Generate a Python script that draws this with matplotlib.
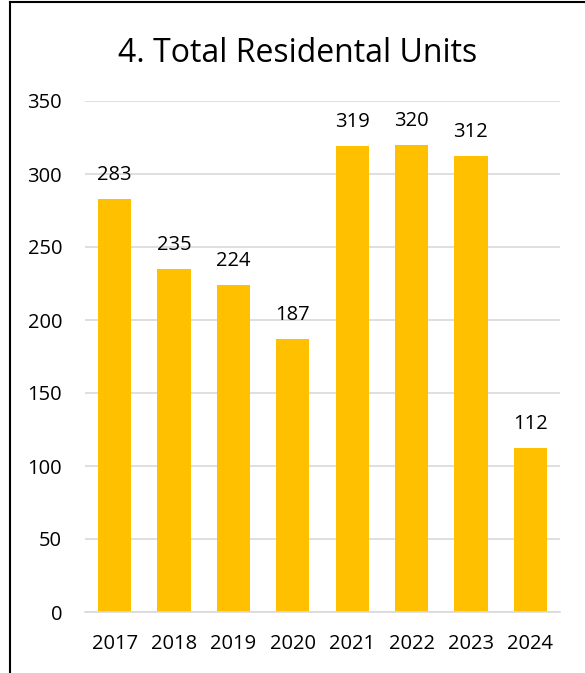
import numpy as np
import matplotlib
matplotlib.use("Agg")
import matplotlib.pyplot as plt
from matplotlib.lines import Line2D

# data
years = ['2017', '2018', '2019', '2020', '2021', '2022', '2023', '2024']
units = [283, 235, 224, 187, 319, 320, 312, 112]
yticks = [0, 50, 100, 150, 200, 250, 300, 350]

W, H = 585, 673
fig = plt.figure(figsize=(W/100, H/100), dpi=100)
ax = fig.add_axes([85/W, 1-612/H, 475/W, 511/H])

x = np.arange(len(years))
ax.bar(x, units, width=0.56, color='#FFC000', zorder=2)
for xi, v in zip(x, units):
    ax.annotate(str(v), (xi, v), xytext=(0, 13.7), textcoords='offset points',
                ha='center', va='baseline', fontsize=14.5, family='Open Sans')

ax.set_xlim(-0.5, len(years) - 0.5)
ax.set_ylim(0, 350)
ax.set_yticks(yticks)
ax.set_xticks(x)
ax.set_xticklabels(years)
ax.grid(axis='y', color='#D9D9D9', linewidth=1.2, zorder=0)
ax.tick_params(length=0, labelsize=14.5)
for lab in ax.get_xticklabels() + ax.get_yticklabels():
    lab.set_family('Open Sans')
for s in ['top', 'right', 'left']:
    ax.spines[s].set_visible(False)
ax.spines['bottom'].set_color('#D9D9D9')
ax.spines['bottom'].set_linewidth(1.2)
ax.yaxis.set_tick_params(pad=16.5)
ax.xaxis.set_tick_params(pad=16)

fig.text(298/W, 1-62/H, '4. Total Residental Units', ha='center', va='baseline',
         fontsize=23, family='Open Sans')

# frame lines
fig.add_artist(Line2D([10/W, 10/W], [0, 1-2/H], color='black', lw=1.5, transform=fig.transFigure))
fig.add_artist(Line2D([10/W, 1], [1-2/H, 1-2/H], color='black', lw=1.5, transform=fig.transFigure))

fig.savefig('out.png', dpi=100)
